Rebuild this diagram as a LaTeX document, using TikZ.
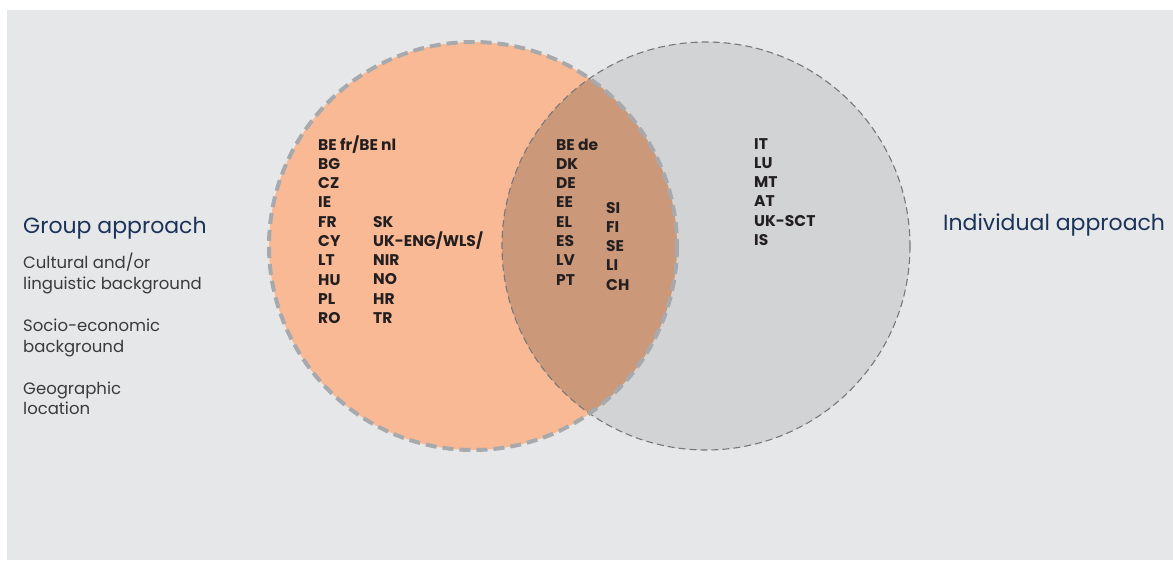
\documentclass[tikz,border=0pt]{standalone}
\usepackage{fontspec}
\setmainfont{Poppins}
\definecolor{bgc}{HTML}{E6E7E8}
\definecolor{orangec}{HTML}{F9B995}
\definecolor{grayc}{HTML}{D1D3D4}
\definecolor{interc}{HTML}{CC987A}
\definecolor{ldash}{HTML}{A7A9AC}
\definecolor{rdash}{HTML}{77787B}
\definecolor{txt}{HTML}{231F20}
\definecolor{navy}{HTML}{1B3358}
\definecolor{subc}{HTML}{3A3A3C}
\tikzset{
  lbl/.style={inner sep=0pt, anchor=base west, text=txt, font=\fontsize{15.5}{18}\selectfont\bfseries},
  ttl/.style={inner sep=0pt, anchor=base west, text=navy, font=\fontsize{22}{26}\selectfont},
  sub/.style={inner sep=0pt, anchor=base west, text=subc, font=\fontsize{16.5}{20}\selectfont},
}
\begin{document}
\begin{tikzpicture}[x=1pt,y=-1pt]
\useasboundingbox (0,0) rectangle (1173,560);
\fill[white] (0,0) rectangle (1173,560);
\fill[bgc] (7,10) rectangle (1173,560);
% circles
\coordinate (cl) at (473,246);
\coordinate (cr) at (706,246);
\fill[orangec] (cl) circle[radius=204];
\fill[grayc] (cr) circle[radius=204];
\begin{scope}
  \clip (cl) circle[radius=204];
  \fill[interc] (cr) circle[radius=204];
\end{scope}
\draw[rdash, line width=1.1pt, dash pattern=on 7pt off 4pt] (cr) circle[radius=204];
\draw[ldash, line width=4pt, dash pattern=on 11pt off 6pt] (cl) circle[radius=204];
% left column 1
\foreach \t [count=\i] in {{BE fr/BE nl},BG,CZ,IE,FR,CY,LT,HU,PL,RO}
  \node[lbl] (a\i) at (318,{150+19.3*(\i-1)}) {\t};
\foreach \t [count=\i] in {SK,{UK-ENG/WLS/},NIR,NO,HR,TR}
  \node[lbl] (b\i) at (373,{227+19.3*(\i-1)}) {\t};
% middle
\foreach \t [count=\i] in {{BE de},DK,DE,EE,EL,ES,LV,PT}
  \node[lbl] (c\i) at (556,{150+19.3*(\i-1)}) {\t};
\foreach \t [count=\i] in {SI,FI,SE,LI,CH}
  \node[lbl] (d\i) at (606,{213+19.3*(\i-1)}) {\t};
% right
\foreach \t [count=\i] in {IT,LU,MT,AT,UK-SCT,IS}
  \node[lbl] (e\i) at (754,{149+19.3*(\i-1)}) {\t};
% titles
\node[ttl] (gt) at (23,233) {Group approach};
\node[ttl] (it) at (943,230) {Individual approach};
\node[sub] (s1) at (23,268) {Cultural and/or};
\node[sub] (s2) at (23,289) {linguistic background};
\node[sub] (s3) at (23,331) {Socio-economic};
\node[sub] (s4) at (23,352) {background};
\node[sub] (s5) at (23,394) {Geographic};
\node[sub] (s6) at (23,414) {location};
\end{tikzpicture}
\end{document}
